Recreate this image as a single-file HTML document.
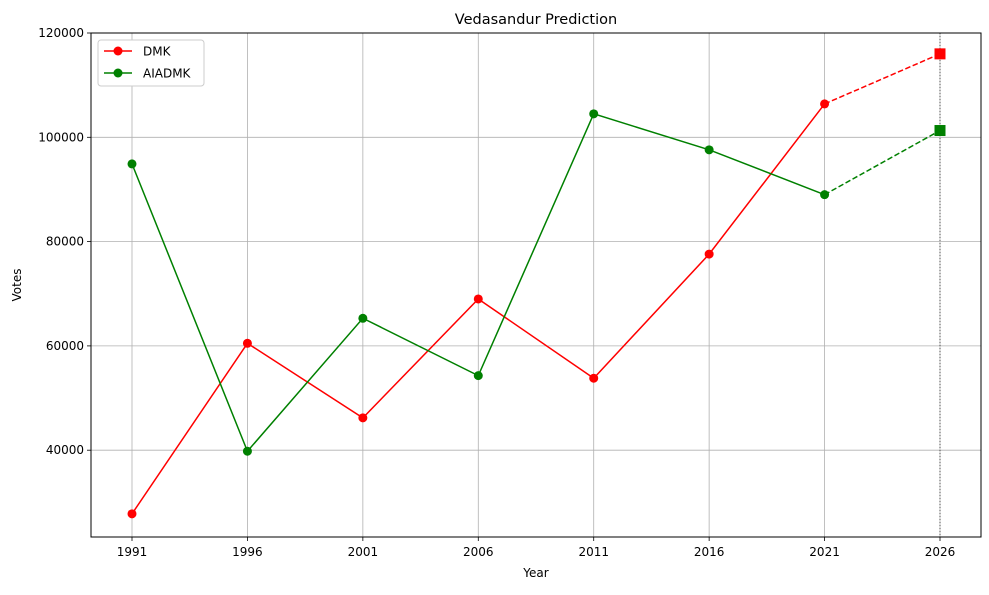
<!DOCTYPE html>
<html><head><meta charset="utf-8"><style>
body{margin:0;background:#fff;font-family:"Liberation Sans","DejaVu Sans",sans-serif}
</style></head><body>
<svg id="chart" width="989" height="590" xmlns="http://www.w3.org/2000/svg" font-family="DejaVu Sans, Liberation Sans, sans-serif"></svg>
<script>
const years=[1991,1996,2001,2006,2011,2016,2021];
const predYear=2026;
const dmkVotes=[27800,60500,46200,69000,53800,77600,106400];
const dmkPred=116000;
const aiadmkVotes=[94900,39800,65300,54300,104500,97600,89000];
const aiadmkPred=101300;
const xTicks=[1991,1996,2001,2006,2011,2016,2021,2026];
const yTicks=[40000,60000,80000,100000,120000];
const L=91,R=981,T=33,B=537;
const x=v=>132+(v-1991)*(940-132)/35;
const y=v=>33+(120000-v)/20000*104.3;
const svg=document.getElementById('chart');
const NS='http://www.w3.org/2000/svg';
function mk(tag,attrs,parent){const e=document.createElementNS(NS,tag);for(const k in attrs)e.setAttribute(k,attrs[k]);(parent||svg).appendChild(e);return e;}
// grid
xTicks.forEach(t=>{const g=mk('line',{x1:x(t),x2:x(t),y1:T,y2:B,stroke:'#b0b0b0','stroke-width':0.8});


const tk=mk('line',{x1:x(t),x2:x(t),y1:B,y2:B+4,stroke:'#000','stroke-width':0.8});
const tx=mk('text',{x:x(t),y:B+19,'text-anchor':'middle','font-size':12});tx.textContent=t;

});
yTicks.forEach(t=>{const g=mk('line',{x1:L,x2:R,y1:y(t),y2:y(t),stroke:'#b0b0b0','stroke-width':0.8});


mk('line',{x1:L-4,x2:L,y1:y(t),y2:y(t),stroke:'#000','stroke-width':0.8});
const tx=mk('text',{x:L-7,y:y(t)+4,'text-anchor':'end','font-size':12});tx.textContent=t;

});
// vertical dotted line
const vl=mk('line',{x1:x(predYear),x2:x(predYear),y1:T,y2:B,stroke:'#555','stroke-width':1,'stroke-dasharray':'1,2'});


function series(vals,pred,color,name){
 const p=mk('polyline',{points:vals.map((v,i)=>x(years[i])+','+y(v)).join(' '),fill:'none',stroke:color,'stroke-width':1.5});
 
 
 const d=mk('line',{x1:x(years[years.length-1]),y1:y(vals[vals.length-1]),x2:x(predYear),y2:y(pred),stroke:color,'stroke-width':1.5,'stroke-dasharray':'5.5,2.5'});
 
 
 vals.forEach((v,i)=>{const c=mk('circle',{cx:x(years[i]),cy:y(v),r:4.5,fill:color});
 
 });
 const s=mk('rect',{x:x(predYear)-5.5,y:y(pred)-5.5,width:11,height:11,fill:color});
 
 
}
series(dmkVotes,dmkPred,'#ff0000','dmk');
series(aiadmkVotes,aiadmkPred,'#008000','aiadmk');
// axes frame
const fr=mk('rect',{x:L,y:T,width:R-L,height:B-T,fill:'none',stroke:'#000','stroke-width':1});


// titles
const ti=mk('text',{x:(L+R)/2,y:24,'text-anchor':'middle','font-size':14.5});ti.textContent='Vedasandur Prediction';


const xt=mk('text',{x:(L+R)/2,y:577,'text-anchor':'middle','font-size':12});xt.textContent='Year';


const yt=mk('text',{x:21,y:285,'text-anchor':'middle','font-size':12,transform:'rotate(-90 21 285)'});yt.textContent='Votes';


// legend
const lg=mk('rect',{x:98,y:40,width:106,height:46,fill:'#fff',stroke:'#ccc',rx:3});


[['DMK','#ff0000',51],['AIADMK','#008000',73]].forEach(([n,c,yy])=>{
 const g=mk('g',{});
 
 
 mk('line',{x1:104,x2:132,y1:yy,y2:yy,stroke:c,'stroke-width':1.5},g);
 mk('circle',{cx:118,cy:yy,r:4.5,fill:c},g);
 const t=mk('text',{x:143,y:yy+4.5,'font-size':12},g);t.textContent=n;
});
</script>
</body></html>
